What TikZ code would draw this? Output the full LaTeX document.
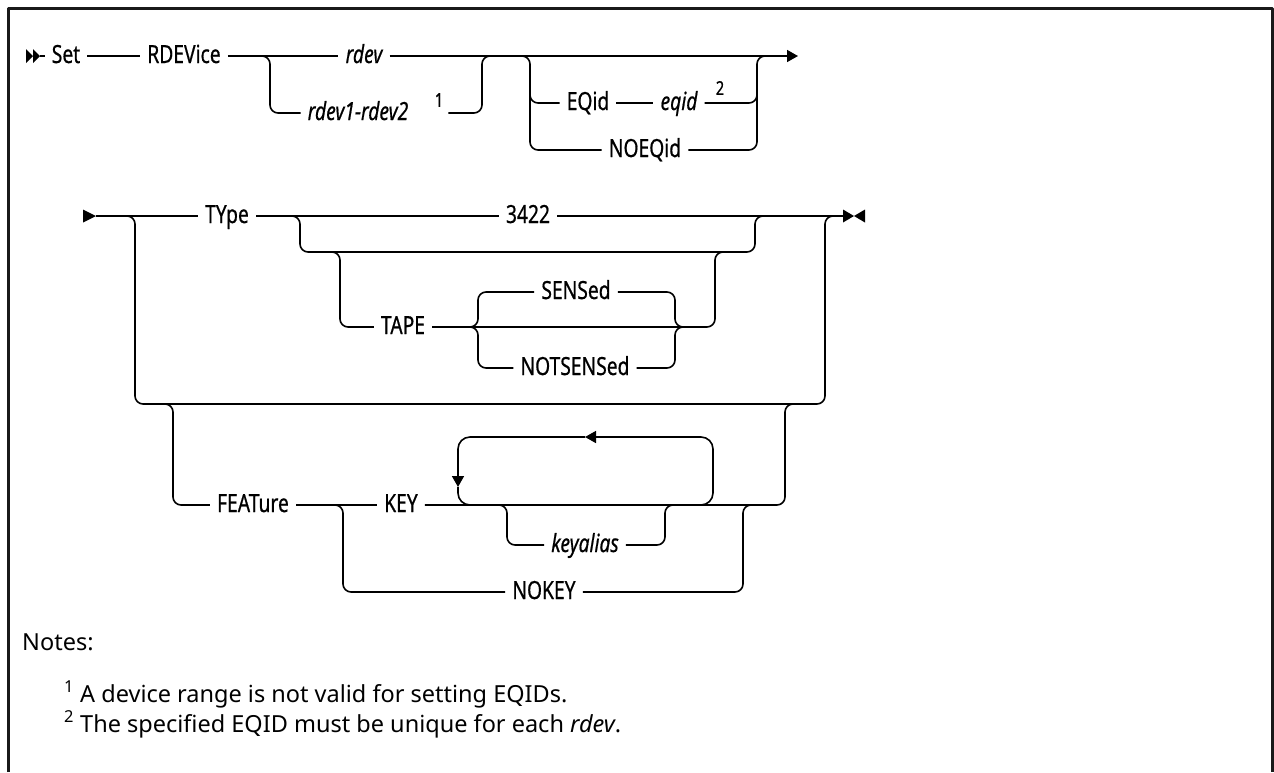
\documentclass[tikz,border=0pt]{standalone}
\usepackage{fontspec}
\setmainfont{Noto Sans}
\newfontfamily\synfont[FakeStretch=0.77,FakeBold=0.6]{Noto Sans}
\newfontfamily\notefont{Noto Sans}
\usetikzlibrary{arrows.meta,positioning}

\tikzset{
  kw/.style={font=\synfont\fontsize{25}{28}\selectfont, inner xsep=7pt, inner ysep=0pt, text height=17pt, text depth=3pt},
  var/.style={kw, font=\synfont\itshape\fontsize{25}{28}\selectfont},
  sup/.style={font=\synfont\fontsize{19}{21}\selectfont, inner xsep=5pt, inner ysep=1pt},
  note/.style={font=\notefont\fontsize{23.5}{28}\selectfont, inner sep=0pt, anchor=base west},
  rail/.style={line width=1.6pt, rounded corners=8pt},
  arr/.style={-{Triangle[length=11pt,width=12pt]}},
}

\begin{document}
\begin{tikzpicture}[x=1pt,y=-1pt,line join=round]
        \useasboundingbox (0,0) rectangle (1274,772);
        \draw[line width=2.5pt, black!90] (8.3,772) -- (8.3,8.7) -- (1272.7,8.7) -- (1272.7,772);

        % first line
        \node[kw] (set) at (66,56) {Set};
        \node[kw] (rdevice) at (184,56) {RDEVice};
        \node[var] (rdev) at (364,56) {rdev};
        \node[var] (rdevr) at (358,113) {rdev1-rdev2};
        \node[sup] (sup1) at (439,100) {1};
        \node[kw] (eqidkw) at (588,103) {EQid};
        \node[var] (eqid) at (679,103) {eqid};
        \node[sup] (sup2) at (720,88) {2};
        \node[kw] (noeqid) at (645,150) {NOEQid};
        \coordinate (go1) at (40,56);
        \coordinate (end1) at (798,56);
        \coordinate (j1a) at (270,56);
        \coordinate (j1b) at (482,56);
        \coordinate (j2a) at (530,56);
        \coordinate (j2b) at (757,56);

        \fill (26,49) -- (33,56) -- (26,63) -- cycle;
        \fill (33,49) -- (40,56) -- (33,63) -- cycle;
        \draw[rail] (go1) -- (set);
        \draw[rail] (set) -- (rdevice);
        \draw[rail] (rdevice) -- (rdev);
        \draw[rail,arr] (rdev) -- (end1);
        \draw[rail] ([xshift=-10pt]j1a) -- (j1a) -- (j1a |- rdevr) -- (rdevr);
        \draw[rail] (sup1.east |- rdevr) -- (j1b |- rdevr) -- (j1b) -- ([xshift=10pt]j1b);
        \draw[rail] ([xshift=-10pt]j2a) -- (j2a) -- (j2a |- noeqid) -- (noeqid);
        \draw[rail] ([yshift=13pt]j2a |- eqidkw) -- (j2a |- eqidkw) -- (eqidkw);
        \draw[rail] (eqidkw) -- (eqid);
        \draw[rail] (eqid) -- (j2b |- eqid) -- ([yshift=13pt]j2b |- eqid);
        \draw[rail] (noeqid) -- (j2b |- noeqid) -- (j2b) -- ([xshift=10pt]j2b);

        % second line
        \node[kw] (type) at (227,216) {TYpe};
        \node[kw] (n3422) at (528,216) {3422};
        \node[kw] (tape) at (403,327) {TAPE};
        \node[kw] (sensed) at (576,292) {SENSed};
        \node[kw] (notsensed) at (575,368) {NOTSENSed};
        \node[kw] (feature) at (253,505) {FEATure};
        \node[kw] (key) at (401,505) {KEY};
        \node[var] (keyalias) at (585,545) {keyalias};
        \node[kw] (nokey) at (544,592) {NOKEY};
        \coordinate (go2) at (96,216);
        \coordinate (end2) at (843,216);
        \coordinate (o1) at (135,216);
        \coordinate (o2) at (825,216);
        \coordinate (t1) at (300,216);
        \coordinate (t2) at (755,216);
        \coordinate (tp1) at (340,252);
        \coordinate (tp2) at (715,252);
        \coordinate (s1) at (478,327);
        \coordinate (s2) at (675,327);
        \coordinate (f1) at (173,404);
        \coordinate (f2) at (785,404);
        \coordinate (nk1) at (343,505);
        \coordinate (nk2) at (743,505);
        \coordinate (ka1) at (507,505);
        \coordinate (ka2) at (665,505);
        \coordinate (lp1) at (458,437);
        \coordinate (lp2) at (713,437);
        \coordinate (ar1) at (585,437);
        \coordinate (ar2) at (458,487);

        \fill (83,209.5) -- (96,216) -- (83,222.5) -- cycle;
        \fill (843,209.5) -- (854,216) -- (843,222.5) -- cycle;
        \fill (865,209.5) -- (854,216) -- (865,222.5) -- cycle;
        \draw[rail] (go2) -- (type);
        \draw[rail] (type) -- (n3422);
        \draw[rail] (n3422) -- (end2);
        \draw[rail] ([xshift=-10pt]o1) -- (o1) -- (o1 |- f1) -- (o2 |- f1) -- (o2) -- ([xshift=10pt]o2);
        \draw[rail] ([xshift=-10pt]t1) -- (t1) -- (t1 |- tp1) -- (t2 |- tp1) -- (t2) -- ([xshift=10pt]t2);
        \draw[rail] ([xshift=-10pt]tp1) -- (tp1) -- (tp1 |- tape) -- (tape);
        \draw[rail] (tape) -- (tp2 |- tape) -- (tp2) -- ([xshift=10pt]tp2);
        \draw[rail] ([xshift=-10pt]s1) -- (s1) -- (s1 |- sensed) -- (sensed);
        \draw[rail] ([xshift=-10pt]s1) -- (s1) -- (s1 |- notsensed) -- (notsensed);
        \draw[rail] (sensed) -- (s2 |- sensed) -- (s2) -- ([xshift=10pt]s2);
        \draw[rail] (notsensed) -- (s2 |- notsensed) -- (s2) -- ([xshift=10pt]s2);
        \draw[rail] ([xshift=-10pt]f1) -- (f1) -- (f1 |- feature) -- (feature);
        \draw[rail] (feature) -- (key);
        \draw[rail] (key) -- (f2 |- key) -- (f2) -- ([xshift=10pt]f2);
        \draw[rail] ([xshift=-10pt]nk1) -- (nk1) -- (nk1 |- nokey) -- (nokey);
        \draw[rail] (nokey) -- (nk2 |- nokey) -- (nk2) -- ([xshift=10pt]nk2);
        \draw[rail] ([xshift=-10pt]ka1) -- (ka1) -- (ka1 |- keyalias) -- (keyalias);
        \draw[rail] (keyalias) -- (ka2 |- keyalias) -- (ka2) -- ([xshift=10pt]ka2);
        % repeat loop
        \draw[rail,rounded corners=12pt,arr] ([xshift=-15pt]lp2 |- key) -- (lp2 |- key) -- (lp2) -- (ar1);
        \draw[rail,rounded corners=12pt,arr] (ar1) -- (lp1) -- (ar2);
        \draw[rail,rounded corners=12pt] (ar2) -- (lp1 |- key) -- ([xshift=15pt]lp1 |- key);

        % notes
        \node[note] (notes) at (22,650) {Notes:};
        \node[note] (note1) at (64,702) {\textsuperscript{1} A device range is not valid for setting EQIDs.};
        \node[note] (note2) at (64,732) {\textsuperscript{2} The specified EQID must be unique for each \textit{rdev}.};
    \end{tikzpicture}
\end{document}
